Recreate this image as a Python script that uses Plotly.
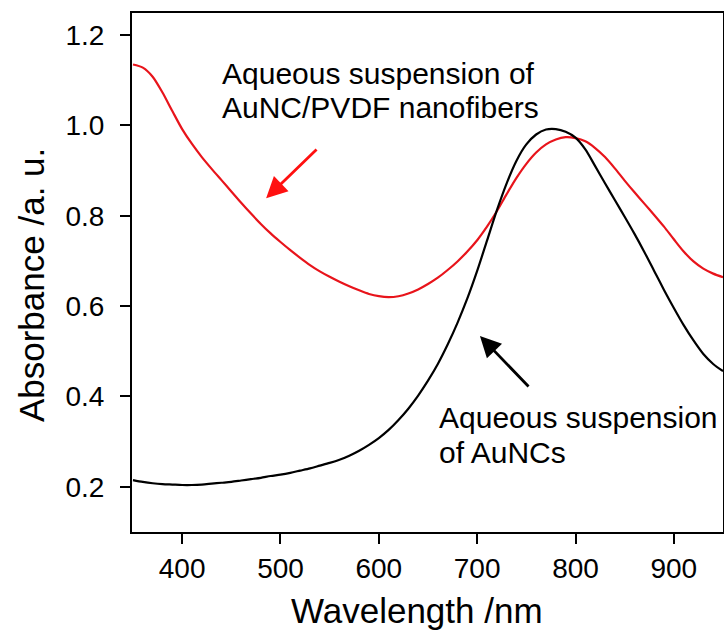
import plotly.graph_objects as go

wavelength = [350, 360, 370, 380, 390, 400, 410, 420, 430, 440, 450, 460, 470, 480, 490,
              500, 510, 520, 530, 540, 550, 560, 570, 580, 590, 600, 610, 620, 630, 640,
              650, 660, 670, 680, 690, 700, 710, 720, 730, 740, 750, 760, 770, 780, 790,
              800, 810, 820, 830, 840, 850, 860, 870, 880, 890, 900, 910, 920, 930, 940, 950]

abs_pvdf = [1.135, 1.128, 1.108, 1.073, 1.032, 0.992, 0.959, 0.930, 0.904, 0.879, 0.854, 0.829,
            0.805, 0.782, 0.761, 0.742, 0.724, 0.707, 0.691, 0.677, 0.665, 0.654, 0.644, 0.635,
            0.627, 0.622, 0.620, 0.622, 0.628, 0.637, 0.649, 0.663, 0.680, 0.699, 0.721, 0.746,
            0.776, 0.810, 0.848, 0.884, 0.915, 0.940, 0.958, 0.969, 0.974, 0.972, 0.965, 0.950,
            0.930, 0.905, 0.878, 0.852, 0.827, 0.802, 0.776, 0.748, 0.721, 0.699, 0.683, 0.672, 0.664]

abs_aunc = [0.215, 0.211, 0.208, 0.206, 0.205, 0.204, 0.204, 0.205, 0.207, 0.209, 0.211, 0.214,
            0.217, 0.220, 0.224, 0.227, 0.231, 0.236, 0.241, 0.247, 0.253, 0.260, 0.269, 0.280,
            0.293, 0.308, 0.326, 0.348, 0.373, 0.402, 0.435, 0.472, 0.515, 0.563, 0.617, 0.678,
            0.745, 0.812, 0.872, 0.922, 0.958, 0.980, 0.991, 0.992, 0.986, 0.973, 0.947, 0.910,
            0.872, 0.835, 0.798, 0.760, 0.720, 0.678, 0.636, 0.596, 0.558, 0.524, 0.494, 0.472, 0.456]

x_ticks = [400, 500, 600, 700, 800, 900]
y_ticks = [0.2, 0.4, 0.6, 0.8, 1.0, 1.2]
y_tick_text = ["0.2", "0.4", "0.6", "0.8", "1.0", "1.2"]

FONT = "Liberation Sans, Arial, sans-serif"

fig = go.Figure()
fig.add_trace(go.Scatter(x=wavelength, y=abs_pvdf, mode="lines",
                         line=dict(color="#e8141b", width=2.2, shape="spline", smoothing=0.8),
                         showlegend=False))
fig.add_trace(go.Scatter(x=wavelength, y=abs_aunc, mode="lines",
                         line=dict(color="#000000", width=2.2, shape="spline", smoothing=0.8),
                         showlegend=False))

txt_font = dict(family=FONT, size=30, color="#000000")
# red label (two lines)
fig.add_annotation(x=438.6, y=1.116, xref="x", yref="y", xanchor="left", yanchor="middle",
                   showarrow=False, text="Aqueous suspension of", font=txt_font)
fig.add_annotation(x=438.6, y=1.040, xref="x", yref="y", xanchor="left", yanchor="middle",
                   showarrow=False, text="AuNC/PVDF nanofibers", font=txt_font)
# black label (two lines)
fig.add_annotation(x=659, y=0.353, xref="x", yref="y", xanchor="left", yanchor="middle",
                   showarrow=False, text="Aqueous suspension", font=txt_font)
fig.add_annotation(x=659, y=0.275, xref="x", yref="y", xanchor="left", yanchor="middle",
                   showarrow=False, text="of AuNCs", font=txt_font)

# arrows
fig.add_annotation(x=485.4, y=0.839, ax=538.2, ay=0.95, xref="x", yref="y",
                   axref="x", ayref="y", text="", showarrow=True,
                   arrowhead=2, arrowsize=1.5, arrowwidth=2.8, arrowcolor="#ff1010", standoff=0)
fig.add_annotation(x=702.8, y=0.534, ax=753.7, ay=0.419, xref="x", yref="y",
                   axref="x", ayref="y", text="", showarrow=True,
                   arrowhead=2, arrowsize=1.5, arrowwidth=2.8, arrowcolor="#000000", standoff=0)

# axis titles
fig.add_annotation(x=0.482, y=-0.152, xref="paper", yref="paper", xanchor="center",
                   yanchor="middle", showarrow=False, text="Wavelength /nm",
                   font=dict(family=FONT, size=35, color="#000000"))
fig.add_annotation(x=-0.169, y=0.476, xref="paper", yref="paper", xanchor="center",
                   yanchor="middle", showarrow=False, text="Absorbance /a. u.", textangle=-90,
                   font=dict(family=FONT, size=35, color="#000000"))

fig.update_layout(
    width=724, height=630,
    margin=dict(l=132, r=1, t=13, b=98),
    paper_bgcolor="white", plot_bgcolor="white",
    font=dict(family=FONT, color="#000000"),
)
fig.update_xaxes(range=[349, 950], tickvals=x_ticks, ticks="outside", ticklen=10, tickwidth=2,
                 tickcolor="#000", showline=True, linecolor="#000", linewidth=2, mirror=True,
                 showgrid=False, zeroline=False, automargin=False,
                 tickfont=dict(family=FONT, size=28))
fig.update_yaxes(range=[0.1, 1.249], tickvals=y_ticks, ticktext=y_tick_text, ticks="outside",
                 ticklen=10, tickwidth=2, tickcolor="#000", showline=True, linecolor="#000",
                 linewidth=2, mirror=True, showgrid=False, zeroline=False, automargin=False,
                 ticklabelstandoff=10,
                 tickfont=dict(family=FONT, size=28))

# remove the browser's default page margin so the figure fills the window exactly
fig.write_html("out.html", config={"displayModeBar": False},
               post_script="document.body.style.margin='0';document.body.style.overflow='hidden';")
